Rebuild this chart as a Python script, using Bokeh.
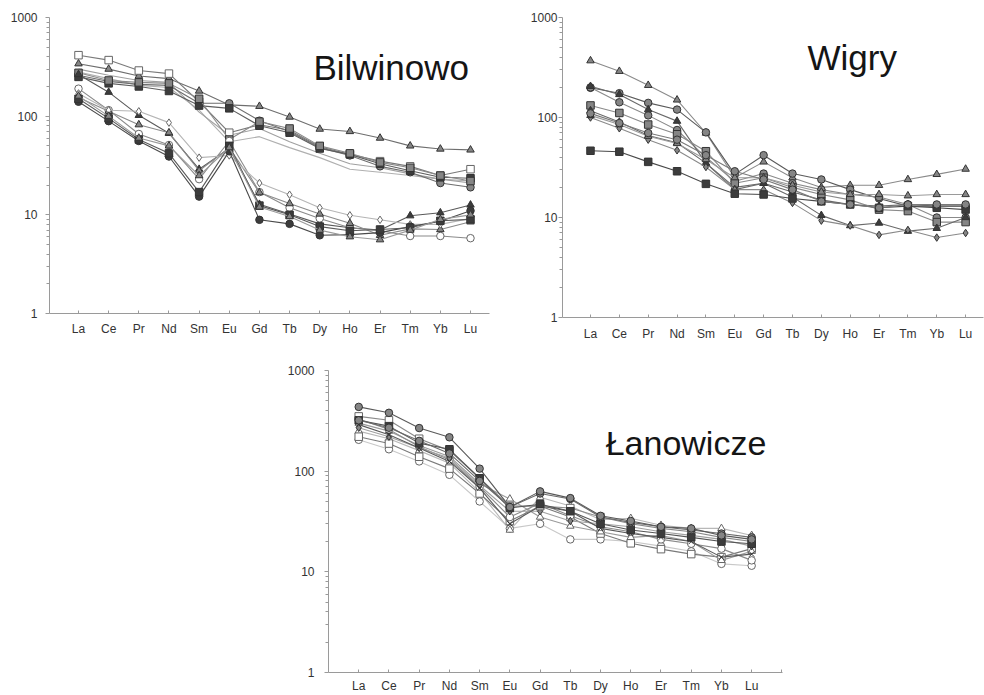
from bokeh.plotting import figure
from bokeh.layouts import column, row
from bokeh.models import Range1d, FixedTicker, NumeralTickFormatter, Label
from bokeh.embed import file_html
from bokeh.resources import INLINE

# ---------------- data ----------------
ELEMENTS = ["La", "Ce", "Pr", "Nd", "Sm", "Eu", "Gd", "Tb", "Dy", "Ho", "Er", "Tm", "Yb", "Lu"]

# Bilwinowo (chondrite-normalised REE)
bil_a = [340, 300, 255, 240, 180, 130, 126, 98, 74, 70, 60, 50, 46.5, 45.5]
bil_b = [415, 370, 290, 270, 140, 68, 82, 72, 49, 41, 35, 31, 25, 29]
bil_c = [260, 225, 210, 205, 135, 135, 90, 70, 48, 40, 31, 27, 21, 19]
bil_d = [250, 215, 200, 180, 128, 120, 80, 68, 47, 41, 33, 28, 24, 23.5]
bil_e = [275, 230, 220, 215, 150, 58, 88, 75, 50, 42, 34, 30, 25, 22]
bil_f = [280, 240, 205, 195, 115, 55, 62, 48, 38, 29, 27, 25, 23, 22]
bil_g = [300, 260, 230, 220, 110, 64, 75, 55, 42, 33, 30, 26, 23, 21]
bil_h = [265, 175, 102, 67, 29, 47, 12.8, 10.2, 8.1, 7.4, 7.0, 9.8, 10.5, 12.6]
bil_i = [190, 115, 66, 51, 23, 56, 17, 11.8, 9.2, 7.4, 6.9, 6.1, 6.1, 5.8]
bil_j = [155, 112, 82, 68, 28, 48, 16.8, 13, 10.2, 8.2, 6.2, 7.2, 7.1, 8.5]
bil_k = [170, 115, 112, 86, 38, 40, 21, 16, 11.8, 9.9, 8.9, 8.0, 8.0, 9.2]
bil_l = [140, 89, 56, 39, 15.3, 44, 8.9, 8.1, 6.2, 6.3, 6.6, 7.6, 8.6, 11]
bil_m = [150, 95, 58, 42, 17, 50, 12.4, 10, 7.6, 6.9, 7.1, 7.4, 8.7, 9.0]
bil_n = [160, 100, 60, 50, 25, 48, 12, 9.6, 7.0, 6.0, 5.6, 7.0, 9.0, 10]

# Wigry
wig_a = [370, 290, 210, 150, 70, 25, 36, 25, 20, 21, 21, 24, 27, 30.5]
wig_b = [198, 175, 140, 120, 71, 27, 42, 27.5, 24, 19, 15.5, 13, 13, 13]
wig_c = [200, 142, 105, 75, 40, 23, 27.5, 22, 19, 17, 16, 13.5, 10, 10]
wig_d = [205, 170, 120, 92, 35, 20, 22, 18, 15, 13.5, 13, 13.5, 13, 13]
wig_e = [132, 111, 85, 68, 46, 22, 25, 20, 17, 15, 12, 11.6, 9, 9]
wig_f = [117, 90, 66, 56, 35, 19, 22, 16, 10.5, 8.3, 8.8, 7.3, 7.8, 10]
wig_g = [100, 78, 60, 47, 32, 19, 19, 14, 9.3, 8.3, 6.7, 7.5, 6.3, 7.0]
wig_h = [46.5, 45.5, 36, 29, 21.7, 17.3, 17, 15.5, 14.5, 13.5, 12.5, 13, 12.5, 12]
wig_i = [105, 85, 65, 55, 38, 25, 25, 21, 18, 17, 17, 16.5, 17, 17]
wig_j = [110, 88, 70, 60, 42, 29, 24, 19, 14.5, 13.5, 12.5, 13.5, 13.5, 13.5]

# Łanowicze
lan_a = [435, 380, 268, 217, 106, 44, 63, 54, 36, 32, 28, 27, 23, 21]
lan_b = [350, 320, 210, 160, 85, 45, 45, 43, 35, 30, 27, 25, 22, 20]
lan_c = [320, 280, 190, 165, 85, 43, 47, 40, 30, 26, 24, 22, 20, 19]
lan_d = [300, 250, 180, 140, 75, 53, 35, 28.5, 25, 22, 23, 20, 13, 16]
lan_e = [330, 260, 175, 130, 70, 35, 48, 36, 28, 25, 21, 19, 17, 13]
lan_f = [220, 188, 139, 106, 60, 32, 45, 35, 24, 19.2, 16.8, 15, 14, 17]
lan_g = [205, 165, 125, 92, 50, 27, 30, 21, 21, 20, 18, 16, 12, 11.5]
lan_h = [290, 230, 170, 125, 68, 30, 45, 40, 27, 24, 22, 20, 14, 15]
lan_i = [250, 210, 160, 120, 62, 26, 55, 45, 33, 34, 29, 27, 27, 23]
lan_j = [270, 220, 170, 135, 72, 40, 40, 32, 30, 28, 25, 23, 21, 18]
lan_k = [320, 270, 200, 150, 80, 44, 60, 53, 35, 31, 28, 26, 24, 22]

# ---------------- styles ----------------
DARK, MID, LIGHT, WHITE = "#3c3c3c", "#858585", "#c4c4c4", "#ffffff"

bil_series = [
    (bil_f, None, None, "#b0b0b0"),
    (bil_g, None, None, "#a0a0a0"),
    (bil_a, "triangle", MID, "#6e6e6e"),
    (bil_b, "square", WHITE, "#7a7a7a"),
    (bil_c, "circle", MID, "#6e6e6e"),
    (bil_d, "square", DARK, "#5e5e5e"),
    (bil_e, "square", MID, "#8a8a8a"),
    (bil_h, "triangle", DARK, "#5a5a5a"),
    (bil_i, "circle", WHITE, "#8a8a8a"),
    (bil_j, "triangle", MID, "#8a8a8a"),
    (bil_k, "diamond", WHITE, "#b5b5b5"),
    (bil_l, "circle", DARK, "#4a4a4a"),
    (bil_m, "square", DARK, "#5a5a5a"),
    (bil_n, "triangle", MID, "#9a9a9a"),
]
wig_series = [
    (wig_a, "triangle", MID, "#8a8a8a"),
    (wig_b, "circle", MID, "#5a5a5a"),
    (wig_c, "circle", MID, "#8a8a8a"),
    (wig_d, "triangle", DARK, "#6a6a6a"),
    (wig_e, "square", MID, "#8a8a8a"),
    (wig_f, "triangle", DARK, "#6a6a6a"),
    (wig_g, "diamond", MID, "#8a8a8a"),
    (wig_h, "square", DARK, "#4a4a4a"),
    (wig_i, "triangle", MID, "#9a9a9a"),
    (wig_j, "circle", MID, "#7a7a7a"),
]
lan_series = [
    (lan_g, "circle", WHITE, "#c8c8c8"),
    (lan_i, "triangle", WHITE, "#b8b8b8"),
    (lan_f, "square", WHITE, "#7a7a7a"),
    (lan_d, "triangle", WHITE, "#9a9a9a"),
    (lan_e, "circle", WHITE, "#8a8a8a"),
    (lan_j, "diamond", MID, "#a0a0a0"),
    (lan_h, "x", DARK, "#5a5a5a"),
    (lan_b, "square", WHITE, "#8a8a8a"),
    (lan_c, "square", DARK, "#555555"),
    (lan_k, "circle", MID, "#6a6a6a"),
    (lan_a, "circle", MID, "#5a5a5a"),
]

FONT = "Liberation Sans"


def make_panel(series, title, title_x, title_y, width, height, mb_left, mb_top, mb_bottom,
               x_start, x_end, title_size, x_standoff, y_standoff, extra_tick=False):
    p = figure(width=width, height=height, y_axis_type="log",
               x_range=Range1d(x_start, x_end), y_range=Range1d(1, 1000),
               output_backend="svg", toolbar_location=None,
               min_border_left=mb_left, min_border_right=1,
               min_border_top=mb_top, min_border_bottom=mb_bottom)
    p.outline_line_color = None
    p.xgrid.visible = False
    p.ygrid.visible = False
    p.background_fill_color = "white"
    p.border_fill_color = "white"

    xs = list(range(len(ELEMENTS)))
    for vals, marker, fill, lcol in series:
        p.line(xs, vals, line_color=lcol, line_width=1.1)
        if marker is not None:
            p.scatter(xs, vals, marker=marker, size=7.5, fill_color=fill,
                      line_color="#333333" if fill != WHITE else "#666666", line_width=1)

    # x axis
    xa = p.xaxis[0]
    ticks = xs + ([len(xs)] if extra_tick else [])
    labels = {i: el for i, el in enumerate(ELEMENTS)}
    if extra_tick:
        labels[len(xs)] = ""
    xa.ticker = FixedTicker(ticks=ticks, minor_ticks=[])
    xa.major_label_overrides = labels
    xa.major_tick_in = 3
    xa.major_tick_out = 0
    xa.major_label_standoff = x_standoff
    # y axis
    ya = p.yaxis[0]
    minors = [m * d for d in (1, 10, 100) for m in range(2, 10)]
    ya.ticker = FixedTicker(ticks=[1, 10, 100, 1000], minor_ticks=minors)
    ya.formatter = NumeralTickFormatter(format="0")
    ya.major_tick_out = 4
    ya.major_tick_in = 0
    ya.minor_tick_out = 3
    ya.minor_tick_in = 0
    ya.major_label_standoff = y_standoff
    for ax in (xa, ya):
        ax.axis_line_color = "#9a9a9a"
        ax.major_tick_line_color = "#9a9a9a"
        ax.minor_tick_line_color = "#9a9a9a"
        ax.major_label_text_font = FONT
        ax.major_label_text_font_size = "12px"
        ax.major_label_text_color = "#333333"

    p.add_layout(Label(x=title_x, y=title_y, text=title, text_font=FONT,
                       text_font_size=title_size, text_color="#151515",
                       text_baseline="alphabetic", text_align="left"))
    return p


p1 = make_panel(bil_series, "Bilwinowo", 7.79, 313, 490, 343, 49, 16, 30,
                -0.962, 13.63, "35px", 8, 8)
p2 = make_panel(wig_series, "Wigry", 7.52, 398, 494, 347, 72, 17, 30,
                -0.97, 13.62, "35px", 9, 1)
p3 = make_panel(lan_series, "Łanowicze", 8.17, 191, 783, 348, 328, 23, 21,
                -1.0, 14.02, "34px", 6, 10, extra_tick=True)

layout = column(row(p1, p2), p3)

open("out.html", "w").write(file_html(layout, INLINE))
